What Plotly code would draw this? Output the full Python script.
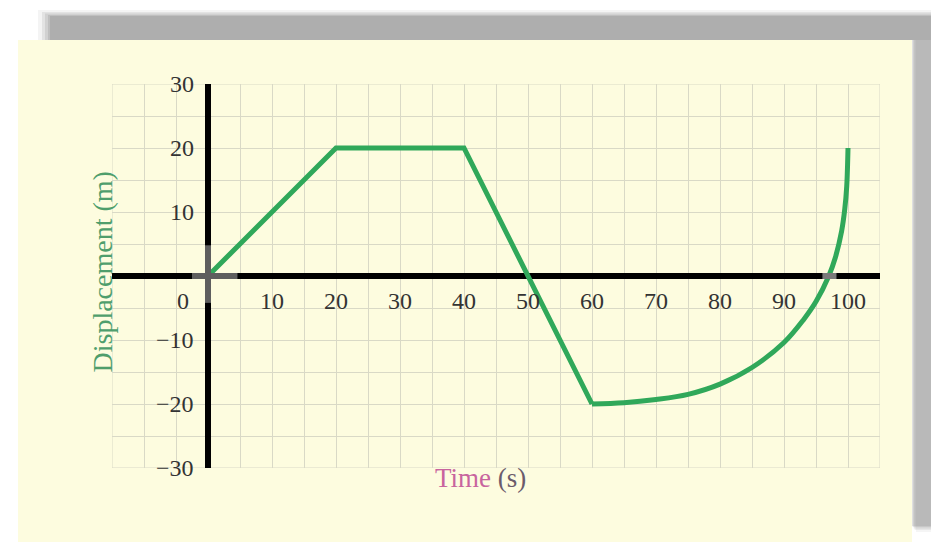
import plotly.graph_objects as go

# Displacement–time data (seconds, metres): straight segments, then a smooth return
segment_time_s = [0, 20, 40, 60]
segment_disp_m = [0, 20, 20, -20]
curve_time_s = [60, 65, 70, 75, 80, 85, 90, 93, 95, 97, 98, 99, 99.5, 99.8, 100]
curve_disp_m = [-20, -19.8, -19.3, -18.5, -16.9, -14.3, -10.4, -6.9,
                -4.0, 0, 2.8, 7.0, 10.5, 14.0, 20]

x_tick_values = [10, 20, 30, 40, 50, 60, 70, 80, 90, 100]
x_tick_labels = ["10", "20", "30", "40", "50", "60", "70", "80", "90", "100"]
y_tick_values = [30, 20, 10, -10, -20, -30]
y_tick_labels = ["30", "20", "10", "−10", "−20", "−30"]

X_RANGE = [-15, 105]
Y_RANGE = [-30, 30]

W, H = 931, 542
ML, MR, MT, MB = 112, 51, 84, 74
PW, PH = W - ML - MR, H - MT - MB

PANEL = "#fdfcdf"
GRID = "#d9d9c6"
GREEN = "#30a85a"
SERIF = "Liberation Serif, serif"
TICK_FONT = dict(family=SERIF, size=24, color="#333333")


def px(x):
    return (x - ML) / PW


def py(y):
    return (H - MB - y) / PH


fig = go.Figure()

fig.add_trace(go.Scatter(
    x=segment_time_s, y=segment_disp_m, mode="lines",
    line=dict(color=GREEN, width=5),
    hoverinfo="skip", showlegend=False,
))
fig.add_trace(go.Scatter(
    x=curve_time_s, y=curve_disp_m, mode="lines",
    line=dict(color=GREEN, width=5, shape="spline", smoothing=1.0),
    hoverinfo="skip", showlegend=False,
))

shapes = []
# page panel and its soft grey shadow
shapes.append(dict(type="rect", xref="paper", yref="paper", layer="below",
                   x0=px(18), x1=px(912), y0=py(40), y1=py(542),
                   fillcolor=PANEL, line=dict(width=0)))
for a, c in [(0.08, 12), (0.12, 8), (0.15, 5), (0.18, 2), (0.2, 0)]:
    shapes.append(dict(type="rect", xref="paper", yref="paper", layer="below",
                       x0=px(50 - c), x1=px(931), y0=py(16 - c / 2), y1=py(40),
                       fillcolor=f"rgba(110,110,110,{a})", line=dict(width=0)))
    shapes.append(dict(type="rect", xref="paper", yref="paper", layer="below",
                       x0=px(912 + c / 3), x1=px(931), y0=py(40), y1=py(526 + c / 2),
                       fillcolor=f"rgba(130,130,130,{a})", line=dict(width=0)))
# grid border
shapes.append(dict(type="rect", xref="x", yref="y", layer="below",
                   x0=X_RANGE[0], x1=X_RANGE[1], y0=Y_RANGE[0], y1=Y_RANGE[1],
                   line=dict(color=GRID, width=1)))
# grey registration marks on the axes
shapes.append(dict(type="line", xref="x", yref="y", layer="above",
                   x0=-2.5, x1=4.6, y0=0, y1=0, line=dict(color="#5e5e5e", width=6)))
shapes.append(dict(type="line", xref="x", yref="y", layer="above",
                   x0=0, x1=0, y0=4.8, y1=-4.2, line=dict(color="#5e5e5e", width=6)))
shapes.append(dict(type="line", xref="x", yref="y", layer="above",
                   x0=96, x1=98.2, y0=0, y1=0, line=dict(color="#7a7a7a", width=6)))

annotations = []
for v, t in zip(x_tick_values, x_tick_labels):
    annotations.append(dict(x=v, y=0, xref="x", yref="y", text=t, showarrow=False,
                            yshift=-25, font=TICK_FONT))
for v, t in zip(y_tick_values, y_tick_labels):
    annotations.append(dict(x=0, y=v, xref="x", yref="y", text=t, showarrow=False,
                            xanchor="right", xshift=-12, font=TICK_FONT))
annotations.append(dict(x=0, y=0, xref="x", yref="y", text="0", showarrow=False,
                        xshift=-25, yshift=-25, font=TICK_FONT))
annotations.append(dict(x=px(84), y=py(272), xref="paper", yref="paper",
                        text="Displacement (m)", showarrow=False, textangle=-90,
                        font=dict(family=SERIF, size=28, color="#4f9e6c")))
annotations.append(dict(x=px(480), y=py(495), xref="paper", yref="paper",
                        text="<span style='color:#c8649e'>Time</span> "
                             "<span style='color:#6b5b6b'>(s)</span>",
                        showarrow=False,
                        font=dict(family=SERIF, size=27, color="#6b5b6b")))

fig.update_layout(
    width=W, height=H,
    margin=dict(l=ML, r=MR, t=MT, b=MB, pad=0),
    paper_bgcolor="white", plot_bgcolor=PANEL,
    shapes=shapes, annotations=annotations,
    xaxis=dict(range=X_RANGE, dtick=5, tick0=0, showgrid=True, gridcolor=GRID, gridwidth=1,
               showticklabels=False, ticks="", showline=False,
               zeroline=True, zerolinecolor="black", zerolinewidth=6, fixedrange=True),
    yaxis=dict(range=Y_RANGE, dtick=5, tick0=0, showgrid=True, gridcolor=GRID, gridwidth=1,
               showticklabels=False, ticks="", showline=False,
               zeroline=True, zerolinecolor="black", zerolinewidth=6, fixedrange=True),
)

fig.write_html("out.html")
